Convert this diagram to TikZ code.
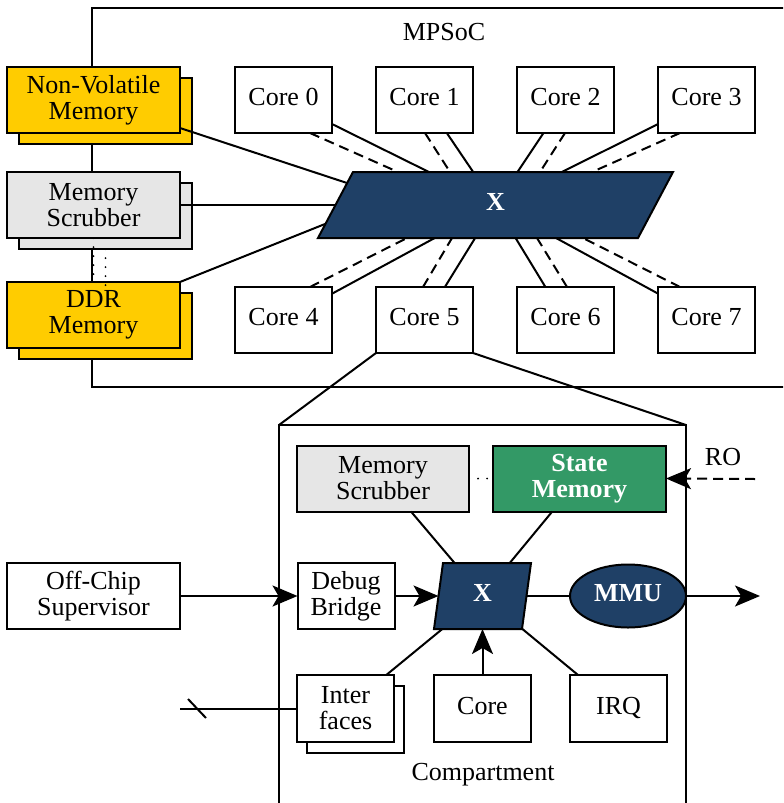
\documentclass[tikz,border=0pt]{standalone}
\usepackage{fontspec}
\setmainfont{Liberation Serif}
\usetikzlibrary{calc,arrows.meta,shapes.geometric}
\definecolor{yel}{HTML}{FFCC00}
\definecolor{lgray}{HTML}{E6E6E6}
\definecolor{navy}{HTML}{1F4066}
\definecolor{sgreen}{HTML}{339966}
\newcommand{\lift}{\vphantom{y}}
\begin{document}
\begin{tikzpicture}[x=0.5pt,y=-0.5pt,line width=1pt,
  txt/.style={font=\fontsize{13}{13}\selectfont, align=center},
  boxbase/.style={draw, line width=1pt, inner sep=0pt, outer sep=0pt, txt},
  coreb/.style={boxbase, fill=white, minimum width=48.5pt, minimum height=33pt},
  wideb/.style={boxbase, minimum width=86.5pt, minimum height=33pt},
  dsh/.style={dash pattern=on 5pt off 3pt},
  dotl/.style={line cap=round, dash pattern=on 0pt off 4.5pt},
  arr/.style={-{Stealth[length=12.5pt,width=10.5pt,inset=3pt]}},
  wb/.style={text=white, font=\fontsize{13}{13}\selectfont\bfseries, align=center}
]
\clip (0,0) rectangle (783,803);
% MPSoC frame
\draw (800,8) -- (92,8) -- (92,387) -- (800,387);
\node[txt] (mpsoc) at (444,32) {MPSoC};
% memories (back copies)
\node[wideb, fill=yel] (nvmb) at (105.5,111) {};
\node[wideb, fill=lgray] (scrubb) at (105.5,216) {};
\node[wideb, fill=yel] (ddrb) at (105.5,326) {};
\node[wideb, fill=yel] (nvm) at (93.5,100) {Non-Volatile\\Memory};
\node[wideb, fill=lgray] (scrub) at (93.5,205) {Memory\\Scrubber};
\node[wideb, fill=yel] (ddr) at (93.5,315) {DDR\\Memory};
\draw[dotl] (scrub.south) -- (ddr.north);
\draw[dotl] (scrubb.south) -- (ddrb.north);
% cores
\node[coreb] (c0) at (283.5,100) {Core 0\lift};
\node[coreb] (c1) at (424.5,100) {Core 1\lift};
\node[coreb] (c2) at (565.5,100) {Core 2\lift};
\node[coreb] (c3) at (706.5,100) {Core 3\lift};
\node[coreb] (c4) at (283.5,320) {Core 4\lift};
\node[coreb] (c5) at (424.5,320) {Core 5\lift};
\node[coreb] (c6) at (565.5,320) {Core 6\lift};
\node[coreb] (c7) at (706.5,320) {Core 7\lift};
% crossbar
\coordinate (xbc) at (495.5,205);
\filldraw[fill=navy] ($(xbc)+(-142.5,-33)$) -- ($(xbc)+(177.5,-33)$) -- ($(xbc)+(142.5,33)$) -- ($(xbc)+(-177.5,33)$) -- cycle;
\node[wb, minimum width=160pt, minimum height=33pt, inner sep=0pt, outer sep=0pt] (xb) at (xbc) {X\lift};
% core links
\foreach \c in {c0,c1,c2,c3,c4,c5,c6,c7} { \draw (\c) -- (xb); }
\draw[dsh] ($(c0.south)+(26.5,0)$) -- ($(xb.north)+(-97.5,0)$);
\draw[dsh] ($(c1.south)+(0.5,0)$) -- ($(xb.north)+(-45.5,0)$);
\draw[dsh] ($(c2.south)+(-0.5,0)$) -- ($(xb.north)+(44.5,0)$);
\draw[dsh] ($(c3.south)+(-26.5,0)$) -- ($(xb.north)+(96.5,0)$);
\draw[dsh] ($(c4.north)+(26.5,0)$) -- ($(xb.south)+(-88.5,0)$);
\draw[dsh] ($(c5.north)+(-1.5,0)$) -- ($(xb.south)+(-43.5,0)$);
\draw[dsh] ($(c6.north)+(1.5,0)$) -- ($(xb.south)+(41.5,0)$);
\draw[dsh] ($(c7.north)+(-26.5,0)$) -- ($(xb.south)+(87.5,0)$);
% memory links
\draw ($(nvm.south east)+(0,-5)$) -- ($(xb.center)+(-148.5,-22)$);
\draw (scrub.east) -- ($(xb.center)+(-160,0)$);
\draw (ddr.north east) -- ($(xb.center)+(-170.5,19)$);
% compartment frame
\coordinate (ctl) at (279,425);
\coordinate (ctr) at (686,425);
\draw (c5.south west) -- (ctl);
\draw (c5.south east) -- (ctr);
\draw (279,810) -- (ctl) -- (ctr) -- (686,810);
\node[txt] (comp) at (483,775) {Compartment};
% compartment contents
\node[wideb, fill=lgray, minimum width=86pt] (cms) at (383,478.5) {Memory\\Scrubber};
\node[wideb, fill=sgreen, wb] (stm) at (579.5,478.5) {State\\Memory};
\draw[dotl] (cms) -- (stm);
\node[txt] (ro) at (723,457) {RO};
\coordinate (roin) at (755,479);
\draw[dsh, arr] (roin) -- (stm.east);
\node[coreb] (dbg) at (346,596) {Debug\\Bridge};
\node[wideb, fill=white] (ocs) at (93.5,596) {Off-Chip\\Supervisor};
\coordinate (x2c) at (482.5,596);
\filldraw[fill=navy] ($(x2c)+(-39.5,-33)$) -- ($(x2c)+(48.5,-33)$) -- ($(x2c)+(39.5,33)$) -- ($(x2c)+(-48.5,33)$) -- cycle;
\node[wb, minimum width=44pt, minimum height=33pt, inner sep=0pt, outer sep=0pt] (x2) at (x2c) {X\lift};
\node[ellipse, draw, fill=navy, wb, minimum width=58pt, minimum height=31.5pt, inner sep=0pt, outer sep=0pt] (mmu) at (628,596) {MMU\lift};
\node[coreb, minimum height=33.5pt] (intfb) at (355.5,719.5) {};
\node[coreb, minimum height=33.5pt] (intf) at (345.5,708.5) {Inter\\faces};
\node[coreb, minimum height=33.5pt] (core) at (482.5,708.5) {Core\lift};
\node[coreb, minimum height=33.5pt] (irq) at (618.5,708.5) {IRQ\lift};
\coordinate (out) at (760,596);
\coordinate (ifx) at (180,708.5);
\draw[arr] (ocs) -- (dbg);
\draw[arr] (dbg) -- (x2);
\draw (x2) -- (mmu);
\draw[arr] (mmu) -- (out);
\draw[arr] (core) -- (x2);
\draw (cms) -- (x2);
\draw (stm) -- (x2);
\draw (intf) -- (x2);
\draw (irq) -- (x2);
\draw (intf.west) -- (ifx);
\draw (188,699) -- (206,718);
\end{tikzpicture}
\end{document}
